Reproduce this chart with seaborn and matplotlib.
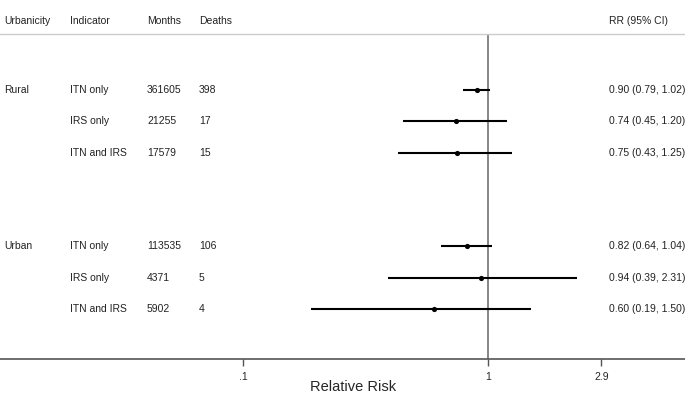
import numpy as np
import pandas as pd
import seaborn as sns
import matplotlib.pyplot as plt
import matplotlib.transforms as mtransforms

urbanicity = ["Rural", "Urban"]
indicators = ["ITN only", "IRS only", "ITN and IRS"]
months = [361605, 21255, 17579, 113535, 4371, 5902]
deaths = [398, 17, 15, 106, 5, 4]
rr = [0.90, 0.74, 0.75, 0.82, 0.94, 0.60]
ci_low = [0.79, 0.45, 0.43, 0.64, 0.39, 0.19]
ci_high = [1.02, 1.20, 1.25, 1.04, 2.31, 1.50]
tick_vals = [0.1, 1, 2.9]
tick_labels = [".1", "1", "2.9"]


def build_table():
    rows = []
    k = 0
    for g, urb in enumerate(urbanicity):
        for j, ind in enumerate(indicators):
            rows.append({
                "urb": urb if j == 0 else "",
                "indicator": ind,
                "months": months[k],
                "deaths": deaths[k],
                "rr": rr[k],
                "lo": ci_low[k],
                "hi": ci_high[k],
                "row": g * 5 + j,
            })
            k += 1
    return pd.DataFrame(rows)


def plot_forest(df):
    sns.set_style("white")
    plt.rcParams["font.family"] = ["Liberation Sans", "DejaVu Sans"]
    W, H = 685, 411
    fig = plt.figure(figsize=(W / 100, H / 100), dpi=100)
    ax = fig.add_axes([0, (H - 359) / H, 1, (359 - 34) / H])

    ax.set_xscale("log")
    ax.set_xlim(0.01019, 6.37)
    ax.set_ylim(8.6, -1.79)

    ax.axvline(1, color="#666666", lw=1.1, zorder=1)
    ax.hlines(df["row"], df["lo"], df["hi"], color="black", lw=1.5, zorder=2)
    sns.scatterplot(data=df, x="rr", y="row", color="black", s=14,
                    edgecolor="black", linewidth=0, zorder=3, ax=ax)

    for side in ["left", "right"]:
        ax.spines[side].set_visible(False)
    ax.spines["top"].set_color("#cccccc")
    ax.spines["top"].set_linewidth(1.0)
    ax.spines["bottom"].set_color("#555555")
    ax.spines["bottom"].set_linewidth(1.2)

    ax.set_yticks([])
    ax.set_xticks(tick_vals)
    ax.set_xticklabels(tick_labels)
    ax.xaxis.set_minor_locator(plt.NullLocator())
    ax.tick_params(axis="x", direction="out", length=5, width=1,
                   color="#555555", labelsize=7.5, pad=4, bottom=True)
    ax.set_ylabel("")
    ax.set_xlabel("Relative Risk", fontsize=10.5, labelpad=4)
    ax.xaxis.set_label_coords(353 / W, -0.065)

    trans = mtransforms.blended_transform_factory(ax.transAxes, ax.transData)
    cols = [(4, "Urbanicity"), (70, "Indicator"), (147, "Months"),
            (199, "Deaths"), (609, "RR (95% CI)")]
    hy = -2.2
    tc = "#222222"
    for px, label in cols:
        ax.text(px / W, hy, label, transform=trans, fontsize=7.5,
                va="center", ha="left", color=tc, clip_on=False)

    for _, r in df.iterrows():
        y = r["row"]
        vals = [(4, r["urb"]), (70, r["indicator"]), (147, str(r["months"])),
                (199, str(r["deaths"])),
                (609, f"{r['rr']:.2f} ({r['lo']:.2f}, {r['hi']:.2f})")]
        for px, s in vals:
            ax.text(px / W, y, s, transform=trans, fontsize=7.5,
                    va="center", ha="left", color=tc)

    fig.savefig("out.png", dpi=100)
    plt.close(fig)


def main():
    df = build_table()
    plot_forest(df)


if __name__ == "__main__":
    main()
